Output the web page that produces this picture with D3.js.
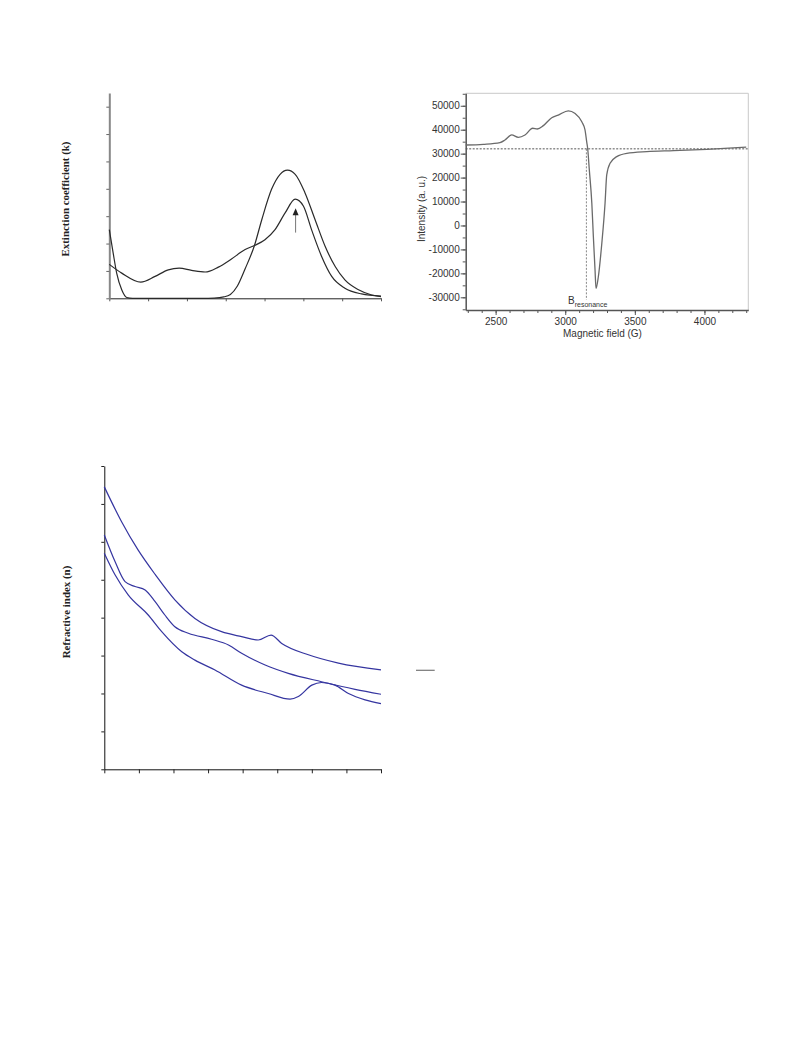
<!DOCTYPE html>
<html>
<head>
<meta charset="utf-8">
<script src="https://cdn.jsdelivr.net/npm/d3@7/dist/d3.min.js"></script>
<style>
  html, body { margin: 0; padding: 0; background: #fff; }
  svg { display: block; }
</style>
</head>
<body>
<svg id="fig" width="793" height="1057"></svg>
<script>
// ---------- Panel A: extinction coefficient (arbitrary units, no tick labels) ----------
const kTicksX = [0, 1, 2, 3, 4, 5, 6, 7];
const kTicksY = [0, 1, 2, 3, 4, 5, 6, 7];
const kCurve1 = [[0,2.51],[0.1,1.65],[0.19,0.92],[0.32,0.31],[0.45,0.03],[0.6,0],[2.4,0],[2.7,0.01],[2.95,0.05],[3.12,0.14],[3.3,0.45],[3.5,1.08],[3.74,1.93],[3.93,2.88],[4.18,3.98],[4.4,4.53],[4.59,4.68],[4.79,4.53],[5.04,3.86],[5.3,2.88],[5.56,1.9],[5.82,1.16],[6.07,0.67],[6.42,0.31],[6.76,0.12],[7,0.06]];
const kCurve2 = [[0,1.24],[0.32,0.92],[0.81,0.59],[1.18,0.8],[1.52,1.04],[1.8,1.1],[2.12,1.02],[2.47,0.96],[2.81,1.14],[3.13,1.42],[3.5,1.78],[3.74,1.93],[4.01,2.14],[4.27,2.51],[4.53,3.12],[4.79,3.62],[5.0,3.37],[5.21,2.51],[5.47,1.53],[5.73,0.8],[6.07,0.37],[6.5,0.16],[7,0.08]];
const kArrow = { x: 4.8, from: 2.4, to: 3.29 };
const kLabel = "Extinction coefficient (k)";

// ---------- Panel B: EPR spectrum ----------
const eprTicksX = [2500, 3000, 3500, 4000];
const eprTicksY = [-30000, -20000, -10000, 0, 10000, 20000, 30000, 40000, 50000];
const eprCurve = [[2285,33600],[2411,33900],[2531,34600],[2567,35700],[2615,37800],[2663,36800],[2711,37800],[2766,40600],[2799,40300],[2843,41700],[2903,45000],[2950,46100],[3022,47900],[3071,46800],[3119,43300],[3142,39900],[3154,35000],[3161,32250],[3173,23200],[3191,9300],[3202,-4600],[3214,-18500],[3221,-26300],[3238,-21300],[3263,-7300],[3286,9300],[3298,21100],[3322,26000],[3370,28750],[3442,30150],[3586,30850],[3778,31250],[4018,31800],[4300,32700]];
const eprBaseline = 32000;
const eprResonance = 3152;
const eprXLabel = "Magnetic field (G)";
const eprYLabel = "Intensity (a. u.)";

// ---------- Panel C: refractive index ----------
const nTicksX = [0, 1, 2, 3, 4, 5, 6, 7, 8];
const nTicksY = [0, 1, 2, 3, 4, 5, 6, 7, 8];
const nCurveTop = [[0,7.45],[0.5,6.53],[0.98,5.78],[1.47,5.14],[2.04,4.47],[2.62,3.98],[3.39,3.63],[3.97,3.5],[4.45,3.41],[4.82,3.54],[5.13,3.32],[5.9,3.02],[6.77,2.8],[8,2.62]];
const nCurveMid = [[0,6.18],[0.31,5.48],[0.6,4.95],[0.89,4.82],[1.18,4.73],[1.47,4.42],[1.75,4.07],[2.04,3.76],[2.43,3.59],[3.1,3.43],[3.59,3.28],[3.97,3.06],[4.65,2.75],[5.32,2.53],[6.28,2.31],[7.25,2.11],[8,1.98]];
const nCurveLow = [[0,5.7],[0.31,5.13],[0.69,4.6],[1.27,4.07],[1.66,3.63],[2.24,3.1],[2.62,2.88],[3.2,2.62],[3.97,2.22],[4.74,2.0],[5.37,1.85],[5.61,1.92],[6.0,2.22],[6.28,2.29],[6.67,2.22],[7.06,2.0],[7.54,1.83],[8,1.73]];
const nLabel = "Refractive index (n)";

const svg = d3.select("#fig");

// ===== Panel A =====
(function () {
  const g = svg.append("g");
  const x = d3.scaleLinear().domain([0, 7]).range([109.3, 381]);
  const y = d3.scaleLinear().domain([0, 7.5]).range([298.3, 93]);
  const line = d3.line().x(d => x(d[0])).y(d => y(d[1])).curve(d3.curveMonotoneX);

  const gx = g.append("g").attr("transform", "translate(0,298.3)")
    .call(d3.axisBottom(x).tickValues(kTicksX).tickFormat("").tickSize(3).tickSizeOuter(0));
  gx.select(".domain").attr("stroke", "#222").attr("stroke-width", 1);
  gx.selectAll(".tick line").attr("stroke", "#555");

  const gy = g.append("g").attr("transform", "translate(109.3,0)")
    .call(d3.axisLeft(y).tickValues(kTicksY).tickFormat("").tickSize(3).tickSizeOuter(0));
  gy.select(".domain").attr("stroke", "#888").attr("stroke-width", 2);
  gy.selectAll(".tick line").attr("stroke", "#666");

  [kCurve1, kCurve2].forEach(c => {
    g.append("path").attr("d", line(c)).attr("fill", "none")
      .attr("stroke", "#2a2a2a").attr("stroke-width", 1.2);
  });

  // arrow
  const ax = x(kArrow.x), y0 = y(kArrow.from), y1 = y(kArrow.to);
  g.append("line").attr("x1", ax).attr("x2", ax).attr("y1", y0).attr("y2", y1 + 6)
    .attr("stroke", "#777").attr("stroke-width", 1);
  g.append("path").attr("d", `M${ax},${y1} L${ax - 3},${y1 + 7} L${ax + 3},${y1 + 7} Z`).attr("fill", "#222");

  g.append("text").attr("transform", "translate(69,199) rotate(-90)")
    .attr("text-anchor", "middle")
    .attr("font-family", "'Liberation Serif', 'Times New Roman', serif")
    .attr("font-weight", "bold").attr("font-size", 10.9).attr("fill", "#222")
    .text(kLabel);
})();

// ===== Panel B =====
(function () {
  const g = svg.append("g");
  const L = 465.7, R = 748.3, T = 93.3, B = 310;
  const x = d3.scaleLinear().domain([2285, 4315]).range([L, R]);
  const y = d3.scaleLinear().domain([-35300, 55200]).range([B, T]);
  const line = d3.line().x(d => x(d[0])).y(d => y(d[1])).curve(d3.curveMonotoneX);
  const fmt = d => String(d);

  // frame top/right light
  g.append("line").attr("x1", L).attr("x2", R).attr("y1", T).attr("y2", T).attr("stroke", "#c8c8c8").attr("stroke-width", 1);
  g.append("line").attr("x1", R).attr("x2", R).attr("y1", T).attr("y2", B).attr("stroke", "#c8c8c8").attr("stroke-width", 1);

  const font = "'Liberation Sans', Arial, sans-serif";

  // minor ticks
  const gxm = g.append("g").attr("transform", `translate(0,${B})`)
    .call(d3.axisBottom(x).tickValues(d3.range(2300, 4301, 100)).tickFormat("").tickSize(3).tickSizeOuter(0));
  gxm.select(".domain").remove();
  gxm.selectAll(".tick line").attr("stroke", "#555");
  const gym = g.append("g").attr("transform", `translate(${L},0)`)
    .call(d3.axisLeft(y).tickValues(d3.range(-35000, 55001, 5000)).tickFormat("").tickSize(3).tickSizeOuter(0));
  gym.select(".domain").remove();
  gym.selectAll(".tick line").attr("stroke", "#555");

  const gx = g.append("g").attr("transform", `translate(0,${B})`)
    .call(d3.axisBottom(x).tickValues(eprTicksX).tickFormat(fmt).tickSize(5).tickPadding(3).tickSizeOuter(0));
  gx.select(".domain").attr("stroke", "#555").attr("stroke-width", 1.5);
  gx.selectAll(".tick line").attr("stroke", "#555");
  gx.selectAll("text").attr("font-family", font).attr("font-size", 10).attr("fill", "#333");

  const gy = g.append("g").attr("transform", `translate(${L},0)`)
    .call(d3.axisLeft(y).tickValues(eprTicksY).tickFormat(fmt).tickSize(5).tickPadding(1).tickSizeOuter(0));
  gy.select(".domain").attr("stroke", "#555").attr("stroke-width", 1.5);
  gy.selectAll(".tick line").attr("stroke", "#555");
  gy.selectAll("text").attr("font-family", font).attr("font-size", 10).attr("fill", "#333");

  // dashed guide lines
  g.append("line").attr("x1", L).attr("x2", R).attr("y1", y(eprBaseline)).attr("y2", y(eprBaseline))
    .attr("stroke", "#555").attr("stroke-width", 1).attr("stroke-dasharray", "2,1.5");
  g.append("line").attr("x1", x(eprResonance)).attr("x2", x(eprResonance))
    .attr("y1", y(eprBaseline)).attr("y2", y(-31000))
    .attr("stroke", "#888").attr("stroke-width", 1).attr("stroke-dasharray", "2,1.5");

  g.append("path").attr("d", line(eprCurve)).attr("fill", "none")
    .attr("stroke", "#6a6a6a").attr("stroke-width", 1.3);

  const t = g.append("text").attr("x", 568).attr("y", 303.5)
    .attr("font-family", font).attr("font-size", 10).attr("fill", "#333");
  t.append("tspan").text("B");
  t.append("tspan").attr("font-size", 7).attr("dy", 3).text("resonance");

  g.append("text").attr("x", 602.5).attr("y", 336.5).attr("text-anchor", "middle")
    .attr("font-family", font).attr("font-size", 10).attr("fill", "#333").text(eprXLabel);
  g.append("text").attr("transform", "translate(425,209) rotate(-90)").attr("text-anchor", "middle")
    .attr("font-family", font).attr("font-size", 10).attr("fill", "#333").text(eprYLabel);
})();

// ===== Panel C =====
(function () {
  const g = svg.append("g");
  const x = d3.scaleLinear().domain([0, 8]).range([104.3, 381]);
  const y = d3.scaleLinear().domain([0, 8]).range([769.3, 466]);
  const line = d3.line().x(d => x(d[0])).y(d => y(d[1])).curve(d3.curveMonotoneX);

  const gx = g.append("g").attr("transform", "translate(0,769.3)")
    .call(d3.axisBottom(x).tickValues(nTicksX).tickFormat("").tickSize(4).tickSizeOuter(0));
  gx.select(".domain").attr("stroke", "#111").attr("stroke-width", 1);
  gx.selectAll(".tick line").attr("stroke", "#222");

  const gy = g.append("g").attr("transform", "translate(104.3,0)")
    .call(d3.axisLeft(y).tickValues(nTicksY).tickFormat("").tickSize(3).tickSizeOuter(0));
  gy.select(".domain").attr("stroke", "#111").attr("stroke-width", 1);
  gy.selectAll(".tick line").attr("stroke", "#222");

  [nCurveTop, nCurveMid, nCurveLow].forEach(c => {
    g.append("path").attr("d", line(c)).attr("fill", "none")
      .attr("stroke", "#3535a0").attr("stroke-width", 1.2);
  });

  g.append("text").attr("transform", "translate(70,612) rotate(-90)")
    .attr("text-anchor", "middle")
    .attr("font-family", "'Liberation Serif', 'Times New Roman', serif")
    .attr("font-weight", "bold").attr("font-size", 10.9).attr("fill", "#222")
    .text(nLabel);

  // stray legend stub
  g.append("line").attr("x1", 416).attr("x2", 434.7).attr("y1", 670.3).attr("y2", 670.3)
    .attr("stroke", "#777").attr("stroke-width", 1.2);
})();
</script>
</body>
</html>
